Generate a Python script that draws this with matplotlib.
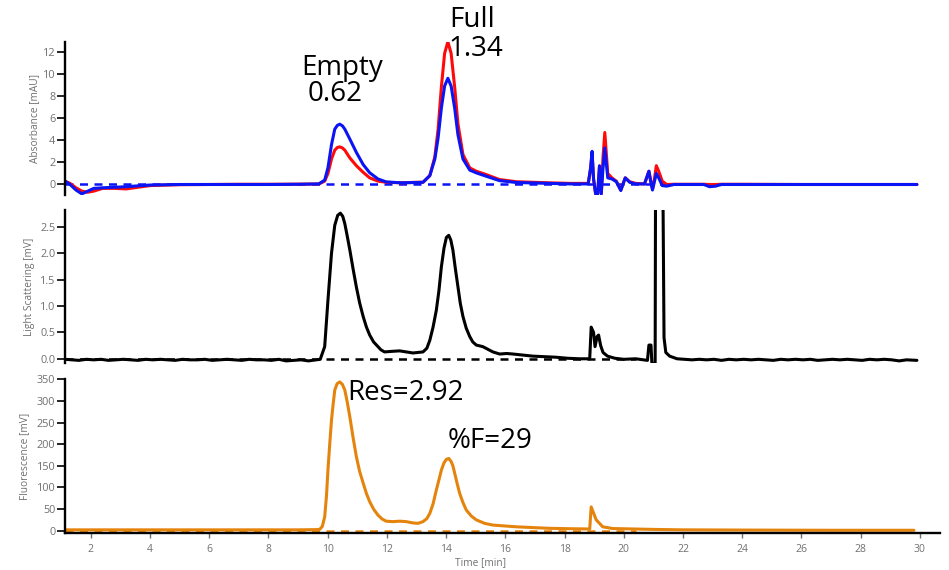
import matplotlib
matplotlib.use("Agg")
import matplotlib.pyplot as plt

plt.rcParams['font.family'] = ['Open Sans', 'DejaVu Sans']

# ---- values (time in min) ----
abs_time = [1.13, 1.3, 1.5, 1.7, 1.9, 2.1, 2.4, 2.8, 3.2, 3.6, 4.0, 5.0, 6.0, 7.0, 8.0, 9.0,
            9.7, 9.9, 10.01, 10.13, 10.24, 10.33, 10.41, 10.5, 10.58, 10.75, 10.97, 11.2,
            11.42, 11.7, 11.98, 12.5, 13.0, 13.22, 13.45, 13.62, 13.73, 13.84, 13.95,
            14.06, 14.17, 14.29, 14.4, 14.57, 14.8, 15.02, 15.35, 15.8, 16.37, 17.49,
            18.2, 18.8, 18.88, 18.93, 18.98, 19.05, 19.12, 19.18, 19.24, 19.3, 19.36,
            19.46, 19.6, 19.75, 19.9, 20.05, 20.2, 20.4, 20.7, 20.85, 20.9, 20.97, 21.03,
            21.1, 21.18, 21.3, 21.45, 21.7, 22.0, 22.7, 22.9, 23.1, 23.3, 24.0, 26.0,
            28.0, 29.9]
abs_260 = [0.3, 0.1, -0.3, -0.6, -0.7, -0.6, -0.35, -0.35, -0.4, -0.25, -0.1, -0.02, 0.0,
           0.02, 0.02, 0.03, 0.05, 0.3, 1.0, 2.3, 3.1, 3.35, 3.4, 3.3, 3.1, 2.4, 1.7, 1.1,
           0.6, 0.3, 0.2, 0.15, 0.2, 0.2, 0.8, 2.5, 5.0, 8.8, 11.85, 12.9, 11.85, 8.8, 5.5,
           2.7, 1.5, 1.2, 0.9, 0.45, 0.25, 0.15, 0.1, 0.1, 1.4, 2.8, 0.5, -0.85, -0.85,
           1.6, -0.85, 2.5, 4.7, 1.0, 0.6, 0.3, -0.5, 0.6, 0.25, 0.1, 0.05, 1.2, 0.5, -0.4,
           0.4, 1.7, 1.2, 0.3, 0.0, 0.02, 0.02, 0.02, 0.0, 0.0, 0.02, 0.02, 0.0, 0.0, 0.0]
abs_280 = [0.3, 0.0, -0.5, -0.85, -0.6, -0.35, -0.3, -0.25, -0.2, -0.12, -0.05, 0.0, 0.0,
           0.0, 0.0, 0.02, 0.05, 0.4, 1.5, 3.6, 5.0, 5.35, 5.45, 5.3, 5.0, 4.1, 2.9, 1.8,
           1.06, 0.5, 0.23, 0.15, 0.18, 0.2, 0.8, 2.3, 4.2, 6.9, 8.9, 9.6, 8.9, 6.9, 4.5,
           2.3, 1.3, 1.05, 0.75, 0.35, 0.18, 0.1, 0.05, 0.05, 1.5, 3.0, 0.5, -0.85, -0.85,
           1.7, -0.85, 1.5, 3.3, 0.6, 0.5, 0.25, -0.55, 0.6, 0.2, 0.05, 0.05, 1.2, 0.4,
           -0.5, 0.2, 1.0, 0.6, -0.1, -0.15, 0.0, 0.0, 0.0, -0.2, -0.15, 0.0, 0.0, 0.0,
           0.0, 0.0]

ls_time = [1.13, 1.35, 1.6, 1.85, 2.1, 2.35, 2.6, 2.85, 3.1, 3.35, 3.6, 3.85, 4.1, 4.35,
           4.6, 4.85, 5.1, 5.35, 5.6, 5.85, 6.1, 6.35, 6.6, 6.85, 7.1, 7.35, 7.6, 7.85,
           8.1, 8.35, 8.6, 8.85, 9.1, 9.35, 9.6, 9.75, 9.9, 10.01, 10.13, 10.24, 10.34,
           10.43, 10.51, 10.58, 10.66, 10.75, 10.86, 10.97, 11.08, 11.2, 11.31, 11.42,
           11.55, 11.7, 11.8, 11.92, 12.15, 12.43, 12.65, 12.88, 13.05, 13.22, 13.35,
           13.45, 13.56, 13.67, 13.76, 13.84, 13.93, 14.01, 14.09, 14.16, 14.23, 14.31,
           14.4, 14.48, 14.57, 14.68, 14.8, 14.9, 15.02, 15.24, 15.58, 15.81, 16.05,
           16.26, 16.6, 16.93, 17.3, 17.7, 18.1, 18.5, 18.85, 18.9, 18.98, 19.03, 19.1,
           19.15, 19.22, 19.3, 19.45, 19.7, 20.0, 20.4, 20.8, 20.85, 20.92, 20.95, 21.06,
           21.08, 21.3, 21.36, 21.42, 21.55, 21.8, 22.05, 22.3, 22.55, 22.8, 23.05, 23.3,
           23.55, 23.8, 24.05, 24.3, 24.55, 24.8, 25.05, 25.3, 25.55, 25.8, 26.05, 26.3,
           26.55, 26.8, 27.05, 27.3, 27.55, 27.8, 28.05, 28.3, 28.55, 28.8, 29.05, 29.3,
           29.55, 29.9]
ls_signal = [-0.01, -0.02, -0.03, -0.01, -0.02, -0.01, -0.03, -0.02, -0.01, -0.02, -0.03,
             -0.01, -0.02, -0.01, -0.02, -0.03, -0.01, -0.02, -0.02, -0.01, -0.03, -0.02,
             -0.01, -0.02, -0.03, -0.01, -0.02, -0.02, -0.03, -0.01, -0.04, -0.03, -0.02,
             -0.04, -0.02, -0.01, 0.23, 1.11, 2.0, 2.53, 2.72, 2.76, 2.7, 2.56, 2.33, 2.06,
             1.7, 1.36, 1.06, 0.8, 0.6, 0.45, 0.32, 0.23, 0.17, 0.13, 0.14, 0.15, 0.13,
             0.11, 0.12, 0.13, 0.2, 0.35, 0.6, 0.92, 1.3, 1.74, 2.1, 2.3, 2.34, 2.25, 2.06,
             1.72, 1.36, 1.05, 0.8, 0.58, 0.42, 0.32, 0.26, 0.23, 0.13, 0.09, 0.1, 0.09,
             0.07, 0.05, 0.04, 0.03, 0.01, 0.0, 0.0, 0.6, 0.5, 0.23, 0.42, 0.45, 0.25, 0.12,
             0.05, 0.01, -0.01, 0.0, -0.03, 0.26, 0.26, -0.09, -0.09, 5.0, 5.0, 0.4, 0.12,
             0.05, 0.0, -0.01, -0.02, -0.01, -0.02, -0.01, -0.03, -0.01, -0.02, -0.01,
             -0.02, -0.01, -0.02, -0.03, -0.01, -0.02, -0.01, -0.02, -0.01, -0.03, -0.02,
             -0.01, -0.02, -0.01, -0.02, -0.03, -0.01, -0.02, -0.01, -0.02, -0.04, -0.02,
             -0.03]

fl_time = [1.13, 3.0, 5.0, 7.0, 9.0, 9.6, 9.73, 9.82, 9.9, 9.96, 10.01, 10.07, 10.13,
           10.19, 10.24, 10.32, 10.41, 10.5, 10.58, 10.66, 10.75, 10.86, 10.97, 11.08,
           11.2, 11.31, 11.42, 11.56, 11.7, 11.84, 11.98, 12.2, 12.43, 12.65, 12.88,
           13.05, 13.22, 13.35, 13.45, 13.56, 13.67, 13.76, 13.84, 13.93, 14.01, 14.09,
           14.17, 14.23, 14.29, 14.37, 14.46, 14.57, 14.68, 14.85, 15.02, 15.3, 15.58,
           16.37, 17.49, 18.3, 18.85, 18.9, 19.07, 19.29, 19.63, 20.0, 21.0, 22.0, 24.0,
           27.0, 29.8]
fl_signal = [2, 2, 2, 2, 2, 2.5, 3, 10, 32, 80, 140, 200, 256, 295, 325, 340, 344, 338,
             325, 298, 263, 215, 171, 137, 110, 86, 67, 49, 36, 27, 22, 21, 22, 21, 18, 17,
             21, 28, 40, 62, 94, 118, 140, 157, 165, 167, 160, 150, 133, 110, 86, 65, 48,
             34, 25, 17, 13, 9, 5.5, 4.5, 4, 55, 25, 9, 5, 4.5, 3, 2, 1.5, 1, 1]

abs_baseline_t = [1.13, 29.9]
ls_baseline_t = [1.13, 20.4]
fl_baseline_t = [1.13, 20.4]

abs_ticks = [0, 2, 4, 6, 8, 10, 12]
ls_ticks = [0.0, 0.5, 1.0, 1.5, 2.0, 2.5]
fl_ticks = [0, 50, 100, 150, 200, 250, 300, 350]
time_ticks = [2, 4, 6, 8, 10, 12, 14, 16, 18, 20, 22, 24, 26, 28, 30]

RED = "#ff0a0a"
BLUE = "#0a14f5"
ORANGE = "#e5840c"
GREY = "#707070"

W, H = 949, 570


def px_axes(fig, top, bottom, left=65, right=940):
    return fig.add_axes([left / W, 1 - bottom / H, (right - left) / W, (bottom - top) / H])


def style_panel(ax, label, label_x, show_x=False):
    for s in ("top", "right"):
        ax.spines[s].set_visible(False)
    ax.spines["left"].set_linewidth(1.7)
    ax.tick_params(axis="y", length=5.5, width=1.2, pad=1.5, labelsize=7.8,
                   labelcolor=GREY, color="black")
    if show_x:
        ax.spines["bottom"].set_linewidth(1.7)
        ax.tick_params(axis="x", length=3.6, width=1.0, pad=4.5, labelsize=7.5,
                       labelcolor=GREY, color=GREY)
    else:
        ax.spines["bottom"].set_visible(False)
        ax.tick_params(axis="x", bottom=False, labelbottom=False)
    ax.set_ylabel(label, fontsize=7.3, color=GREY)
    ax.yaxis.set_label_coords(label_x, 0.5)


fig = plt.figure(figsize=(W / 100, H / 100), dpi=100)

ax1 = px_axes(fig, 42, 195)
ax2 = px_axes(fig, 210, 363)
ax3 = px_axes(fig, 379, 533)

line_kw = dict(lw=2.2, solid_joinstyle="round", solid_capstyle="round")

# absorbance
ax1.plot(abs_baseline_t, [0, 0], color=BLUE, lw=1.8, dashes=(3.2, 2.6))
ax1.plot(abs_time, abs_260, color=RED, **line_kw)
ax1.plot(abs_time, abs_280, color=BLUE, **line_kw)
ax1.set_ylim(-0.95, 12.88)
ax1.set_yticks(abs_ticks)
style_panel(ax1, "Absorbance [mAU]", -0.028)

# light scattering
ax2.plot(ls_baseline_t, [0, 0], color="black", lw=1.8, dashes=(3.2, 2.6))
ax2.plot(ls_time, ls_signal, color="black", **line_kw)
ax2.set_ylim(-0.08, 2.82)
ax2.set_yticks(ls_ticks)
ax2.set_yticklabels([f"{v:.1f}" for v in ls_ticks])
style_panel(ax2, "Light Scattering [mV]", -0.034)

# fluorescence
ax3.plot(fl_baseline_t, [0, 0], color=ORANGE, lw=1.8, dashes=(3.2, 2.6))
ax3.plot(fl_time, fl_signal, color=ORANGE, **line_kw)
ax3.set_ylim(-5.3, 350.7)
ax3.set_yticks(fl_ticks)
ax3.set_xticks(time_ticks)
style_panel(ax3, "Fluorescence [mV]", -0.040, show_x=True)

for ax in (ax1, ax2, ax3):
    ax.set_xlim(1.13, 30.68)
    ax.patch.set_alpha(0)

fig.text(480 / W, 1 - 563 / H, "Time [min]", fontsize=7.3, color=GREY,
         ha="center", va="center")


# annotations
def note(x, y, s):
    fig.text(x / W, 1 - y / H, s, fontsize=20, color="black", ha="left", va="baseline")


note(301, 75, "Empty")
note(308, 101, "0.62")
note(449, 27, "Full")
note(448, 56, "1.34")
note(347, 400, "Res=2.92")
note(448, 448, "%F=29")

fig.savefig("out.png", dpi=100)
